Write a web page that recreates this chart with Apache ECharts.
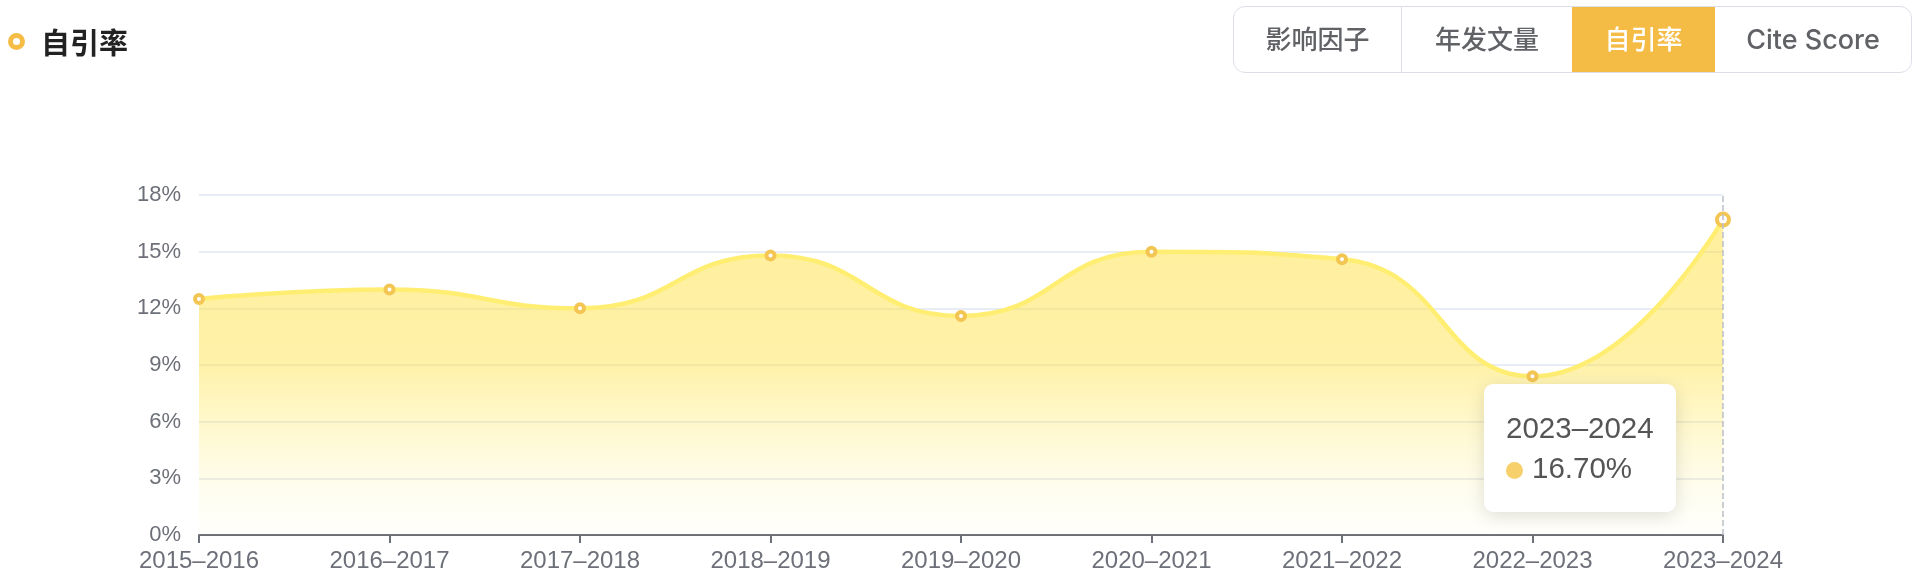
<!DOCTYPE html>
<html>
<head>
<meta charset="utf-8">
<script src="https://cdn.jsdelivr.net/npm/echarts@6/dist/echarts.min.js"></script>
<style>
  html, body { margin: 0; padding: 0; background: #fff; }
  #wrap { position: relative; width: 1922px; height: 582px; overflow: hidden; }
  #chart { position: absolute; left: 0; top: 0; width: 1922px; height: 582px; }
  .title { position: absolute; left: 8px; top: 20px; height: 42px; display: flex; align-items: center;
    font-family: "Noto Sans CJK SC", sans-serif; font-weight: 700; font-size: 29px; color: #222; z-index: 2; }
  .title .dot { width: 7px; height: 7px; border: 5.5px solid #F5BD45; border-radius: 50%; margin-right: 16px; background: #fff; }
  .tabs { position: absolute; left: 1233px; top: 6px; width: 677px; height: 65px; border: 1.5px solid #dcdfe6;
    border-radius: 12px; overflow: hidden; display: flex; z-index: 2; background: #fff; }
  .tabs div { height: 65px; line-height: 65px; text-align: center; font-size: 26px; color: #606266;
    font-family: "Inter", "Noto Sans CJK SC", sans-serif; font-weight: 500; box-sizing: border-box; }
  .tabs div.latin { font-size: 27px; }
  .tabs div.sep { border-right: 1.5px solid #dcdfe6; }
  .tabs div.on { background: #F4BC45; color: #fff; }
</style>
</head>
<body>
<div id="wrap">
  <div class="title"><span class="dot"></span><span id="titleText"></span></div>
  <div class="tabs" id="tabs"></div>
  <div id="chart"></div>
</div>
<script>
const titleText = '自引率';
const tabLabels = ['影响因子', '年发文量', '自引率', 'Cite Score'];
const activeTab = 2;
const categories = ['2015–2016', '2016–2017', '2017–2018', '2018–2019', '2019–2020', '2020–2021', '2021–2022', '2022–2023', '2023–2024'];
const selfCiteRate = [12.5, 13.0, 12.0, 14.8, 11.6, 15.0, 14.6, 8.4, 16.7];
const yTicks = { min: 0, max: 18, interval: 3 };
const highlightIndex = 8;

document.getElementById('titleText').textContent = titleText;
const tabWidths = [168, 170, 143, 196];
const tabs = document.getElementById('tabs');
tabLabels.forEach((t, i) => {
  const d = document.createElement('div');
  d.textContent = t;
  d.style.width = tabWidths[i] + 'px';
  const cls = [];
  if (i === activeTab) cls.push('on');
  else if (i === 0) cls.push('sep');
  if (/^[A-Za-z ]+$/.test(t)) cls.push('latin');
  d.className = cls.join(' ');
  tabs.appendChild(d);
});

const chart = echarts.init(document.getElementById('chart'), null, { renderer: 'canvas' });
const latin = '"Liberation Sans", "Noto Sans CJK SC", sans-serif';
chart.setOption({
  animation: false,
  grid: { left: 199, right: 199, top: 195, bottom: 47, containLabel: false },
  tooltip: {
    trigger: 'axis',
    alwaysShowContent: true,
    transitionDuration: 0,
    backgroundColor: '#fff',
    borderWidth: 0,
    borderRadius: 9,
    padding: [24, 22],
    extraCssText: 'box-shadow: 0 4px 18px rgba(0,0,0,0.13);',
    position: function () { return [1484, 384]; },
    axisPointer: { type: 'line', lineStyle: { color: '#B9BEC9', type: 'dashed', width: 1.5 } },
    formatter: function (params) {
      const p = params[0];
      return '<div style="font-family:' + latin.replace(/"/g, "'") + ';font-size:29.5px;line-height:40px;color:#555;">' +
        '<div>' + p.name + '</div>' +
        '<div><span style="display:inline-block;width:17px;height:17px;border-radius:50%;background:#F7CF6B;margin-right:9px;vertical-align:-1px;"></span>' +
        p.value.toFixed(2) + '%</div></div>';
    }
  },
  xAxis: {
    type: 'category',
    data: categories,
    boundaryGap: false,
    axisLine: { lineStyle: { color: '#6e7079', width: 2 } },
    axisTick: { length: 8, lineStyle: { color: '#6e7079', width: 2 } },
    axisLabel: { fontSize: 24, color: '#6e7079', margin: 14, fontFamily: latin }
  },
  yAxis: {
    type: 'value',
    min: yTicks.min, max: yTicks.max, interval: yTicks.interval,
    axisLabel: { formatter: '{value}%', fontSize: 22, color: '#6e7079', margin: 18, fontFamily: latin },
    splitLine: { lineStyle: { color: '#e0e6f1', width: 1.5 } },
    axisLine: { show: false },
    axisTick: { show: false }
  },
  series: [{
    type: 'line',
    data: selfCiteRate,
    smooth: true,
    symbol: 'circle',
    symbolSize: 8,
    showSymbol: true,
    color: '#F3C654',
    lineStyle: { color: '#F7D968', width: 4.5 },
    itemStyle: { color: '#ffffff', borderColor: '#F3C654', borderWidth: 4 },
    emphasis: { scale: 1.5, itemStyle: { color: '#ffffff', borderColor: '#F3C654', borderWidth: 4 }, lineStyle: { width: 4.5 }, focus: 'none' },
    areaStyle: {
      opacity: 1,
      color: new echarts.graphic.LinearGradient(0, 0, 0, 1, [
        { offset: 0, color: 'rgba(242, 205, 62, 0.52)' },
        { offset: 0.45, color: 'rgba(242, 205, 62, 0.47)' },
        { offset: 0.65, color: 'rgba(244, 210, 80, 0.3)' },
        { offset: 0.85, color: 'rgba(246, 215, 100, 0.12)' },
        { offset: 1, color: 'rgba(250, 228, 140, 0.03)' }
      ])
    }
  }]
});
chart.dispatchAction({ type: 'showTip', seriesIndex: 0, dataIndex: highlightIndex });
</script>
</body>
</html>
